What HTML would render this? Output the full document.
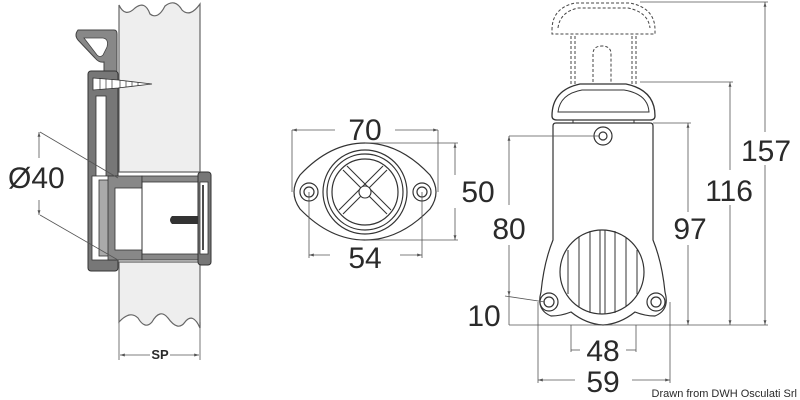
<!DOCTYPE html>
<html><head><meta charset="utf-8"><style>
html,body{margin:0;padding:0;background:#fff;}
svg{display:block;}
text{font-family:"Liberation Sans",sans-serif;fill:#2a2a2a;}
</style></head><body>
<svg width="800" height="400" viewBox="0 0 800 400" xmlns="http://www.w3.org/2000/svg">
<defs>
<marker id="a" viewBox="0 0 10 10" refX="10" refY="5" markerWidth="6" markerHeight="6" orient="auto-start-reverse"><path d="M0,2 L10,5 L0,8 Z" fill="#555"/></marker>
</defs>
<!-- LEFT: wall section -->
<g stroke="#666" stroke-width="1.2">
 <path d="M119,5 Q125,18 135,8 Q145,0 150,14 Q158,20 165,6 Q175,-2 182,10 Q190,18 200,4 L200,172 L119,172 Z" fill="#eeeeee"/>
 <path d="M119,262 L200,262 L200,328 Q193,312 185,322 Q178,332 168,318 Q160,308 152,322 Q145,330 138,318 Q130,310 119,322 Z" fill="#eeeeee"/>
</g>
<!-- lever -->
<path d="M78,30 L114,30 Q117,30 117,34 L117,72 L104,72 L104,62 Q99,63 95,58 L78,40 Q74,35 78,30 Z" fill="#888" stroke="#444" stroke-width="1"/>
<path d="M84,38 L103,38 Q109,39 107,47 L103,55 Q100,58 97,55 Z" fill="#fff" stroke="#444" stroke-width="0.8"/>
<!-- flange plate -->
<rect x="88" y="71" width="30" height="200" fill="#777" stroke="#333" stroke-width="1" rx="3"/>
<rect x="96" y="96" width="10" height="80" fill="#fff" stroke="#333" stroke-width="0.8"/>
<rect x="92" y="176" width="24" height="84" fill="#fff" stroke="#333" stroke-width="0.8"/>
<rect x="99" y="180" width="10" height="76" fill="#aaa" stroke="#333" stroke-width="0.8"/>
<!-- tube -->
<rect x="108" y="176" width="34" height="84" fill="#888" stroke="#333" stroke-width="0.8"/>
<rect x="115" y="188" width="27" height="62" fill="#fff" stroke="#333" stroke-width="0.8"/>
<rect x="142" y="180" width="58" height="76" fill="#fff" stroke="#333" stroke-width="1"/>
<rect x="142" y="176" width="58" height="6" fill="#888" stroke="#333" stroke-width="0.8"/>
<rect x="142" y="254" width="58" height="6" fill="#888" stroke="#333" stroke-width="0.8"/>
<rect x="198" y="172" width="13" height="93" fill="#777" stroke="#333" stroke-width="1" rx="3"/>
<rect x="200" y="182" width="8" height="72" fill="#fff" stroke="#333" stroke-width="0.8"/>
<line x1="203" y1="185" x2="203" y2="250" stroke="#111" stroke-width="1.5"/>
<path d="M172,216 L198,216 L198,224 L172,224 Q168,220 172,216 Z" fill="#333"/>
<!-- screw -->
<path d="M93,78 L118,80 L152,84 L118,88 L93,90 Z" fill="#fff" stroke="#333" stroke-width="0.8"/>
<g stroke="#333" stroke-width="0.7"><line x1="100" y1="78" x2="100" y2="90"/><line x1="106" y1="79" x2="106" y2="89"/><line x1="112" y1="79" x2="112" y2="89"/><line x1="120" y1="80" x2="120" y2="88"/><line x1="126" y1="81" x2="126" y2="87"/><line x1="132" y1="82" x2="132" y2="86"/><line x1="138" y1="82" x2="138" y2="86"/></g>
<!-- Ø40 dims -->
<g stroke="#555" stroke-width="0.8" fill="none">
 <line x1="39" y1="158" x2="39" y2="132" marker-end="url(#a)"/><line x1="39" y1="200" x2="39" y2="215" marker-end="url(#a)"/>
 <line x1="40" y1="132" x2="118" y2="178"/><line x1="40" y1="215" x2="118" y2="260"/>
 <line x1="119" y1="322" x2="119" y2="360"/><line x1="200" y1="322" x2="200" y2="360"/>
 <line x1="150" y1="355" x2="120" y2="355" marker-end="url(#a)"/><line x1="170" y1="355" x2="199" y2="355" marker-end="url(#a)"/>
</g>
<text x="8" y="188" font-size="30">Ø40</text>
<text x="160" y="359" font-size="13" font-weight="bold" text-anchor="middle">SP</text>

<!-- MIDDLE -->
<g stroke="#333" stroke-width="1.2" fill="#fff">
 <path d="M300,175 Q330,143 365,143 Q400,143 430,175 Q442,192 430,209 Q400,240 365,240 Q330,240 300,209 Q288,192 300,175 Z"/>
 <circle cx="309" cy="192" r="9"/><circle cx="309" cy="192" r="5"/>
 <circle cx="422" cy="192" r="9"/><circle cx="422" cy="192" r="5"/>
 <circle cx="365" cy="192" r="42"/><circle cx="365" cy="192" r="38"/><circle cx="365" cy="192" r="33"/>
</g>
<g stroke="#333" stroke-width="1.1" fill="none">
 <line x1="343" y1="170" x2="387" y2="214"/><line x1="347" y1="166" x2="391" y2="210"/>
 <line x1="387" y1="170" x2="343" y2="214"/><line x1="383" y1="166" x2="339" y2="210"/>
 <circle cx="365" cy="192" r="6" fill="#fff"/>
</g>
<g stroke="#555" stroke-width="0.8" fill="none">
 <line x1="292" y1="130" x2="292" y2="192"/><line x1="438" y1="130" x2="438" y2="192"/>
 <line x1="335" y1="130" x2="292" y2="130" marker-end="url(#a)"/><line x1="395" y1="130" x2="438" y2="130" marker-end="url(#a)"/>
 <line x1="365" y1="143" x2="458" y2="143"/><line x1="365" y1="240" x2="458" y2="240"/>
 <line x1="455" y1="175" x2="455" y2="143" marker-end="url(#a)"/><line x1="455" y1="208" x2="455" y2="240" marker-end="url(#a)"/>
 <line x1="309" y1="192" x2="309" y2="258"/><line x1="422" y1="192" x2="422" y2="258"/>
 <line x1="330" y1="255" x2="309" y2="255" marker-end="url(#a)"/><line x1="400" y1="255" x2="422" y2="255" marker-end="url(#a)"/>
</g>
<text x="365" y="140" font-size="30" text-anchor="middle">70</text>
<text x="478" y="202" font-size="30" text-anchor="middle">50</text>
<text x="365" y="268" font-size="30" text-anchor="middle">54</text>

<!-- RIGHT: pump -->
<g stroke="#333" stroke-width="1.2" fill="#fff">
 <path d="M553,126 Q553,123 556,123 L650,123 Q653,123 653,126 L653,240 Q662,262 665,292 Q670,310 655,316 Q645,316 635,312 Q620,324 603,325 Q586,324 571,312 Q561,316 551,316 Q536,310 541,292 Q544,262 553,240 Z"/>
 <circle cx="603" cy="136" r="9"/><circle cx="603" cy="136" r="4"/>
 <circle cx="549" cy="302" r="9"/><circle cx="549" cy="302" r="5"/>
 <circle cx="656" cy="302" r="9"/><circle cx="656" cy="302" r="5"/>
 <circle cx="602" cy="272" r="42"/>
</g>
<g stroke="#333" stroke-width="1">
 <line x1="579" y1="237" x2="579" y2="307"/><line x1="590" y1="231" x2="590" y2="313"/>
 <line x1="600" y1="230" x2="600" y2="314"/><line x1="605" y1="230" x2="605" y2="314"/>
 <line x1="615" y1="231" x2="615" y2="313"/><line x1="626" y1="237" x2="626" y2="307"/>
 <line x1="568" y1="250" x2="568" y2="294"/><line x1="637" y1="250" x2="637" y2="294"/>
</g>
<!-- lower handle -->
<path d="M552,116 Q552,90 580,84 L626,84 Q655,90 655,116 Q655,120 650,120 L557,120 Q552,120 552,116 Z" fill="#fff" stroke="#333" stroke-width="1.3"/>
<path d="M558,112 Q560,94 582,90 L624,90 Q648,94 649,112 Z" fill="#fff" stroke="#333" stroke-width="1"/>
<line x1="573" y1="120" x2="573" y2="123" stroke="#333"/><line x1="634" y1="120" x2="634" y2="123" stroke="#333"/>
<!-- dashed top -->
<g stroke="#444" stroke-width="1" fill="none" stroke-dasharray="3,2">
 <path d="M552,30 Q552,8 575,3 L630,3 Q655,8 655,30 L655,34 L552,34 Z"/>
 <path d="M558,28 Q560,12 578,8 L628,8 Q648,12 650,28"/>
 <line x1="571" y1="36" x2="571" y2="84"/><line x1="575" y1="36" x2="575" y2="84"/>
 <line x1="632" y1="36" x2="632" y2="84"/><line x1="636" y1="36" x2="636" y2="84"/>
 <path d="M593,82 L593,54 Q593,46 602,46 Q611,46 611,54 L611,82"/>
</g>
<!-- dims -->
<g stroke="#555" stroke-width="0.8" fill="none">
 <line x1="640" y1="2" x2="768" y2="2"/><line x1="765" y1="132" x2="765" y2="2" marker-end="url(#a)"/><line x1="765" y1="165" x2="765" y2="325" marker-end="url(#a)"/>
 <line x1="640" y1="82" x2="733" y2="82"/><line x1="730" y1="170" x2="730" y2="82" marker-end="url(#a)"/><line x1="730" y1="205" x2="730" y2="325" marker-end="url(#a)"/>
 <line x1="653" y1="123" x2="691" y2="123"/><line x1="688" y1="212" x2="688" y2="123" marker-end="url(#a)"/><line x1="688" y1="245" x2="688" y2="325" marker-end="url(#a)"/>
 <line x1="509" y1="136" x2="600" y2="136"/><line x1="509" y1="205" x2="509" y2="136" marker-end="url(#a)"/><line x1="509" y1="245" x2="509" y2="296" marker-end="url(#a)"/>
 <line x1="505" y1="296" x2="545" y2="302"/><line x1="509" y1="296" x2="509" y2="325"/>
 <line x1="509" y1="325" x2="768" y2="325"/>
 <line x1="571" y1="325" x2="571" y2="352"/><line x1="636" y1="325" x2="636" y2="352"/>
 <line x1="580" y1="350" x2="571" y2="350"/><line x1="626" y1="350" x2="636" y2="350"/>
 <line x1="538" y1="302" x2="538" y2="383"/><line x1="670" y1="302" x2="670" y2="383"/>
 <line x1="575" y1="380" x2="538" y2="380" marker-end="url(#a)"/><line x1="632" y1="380" x2="670" y2="380" marker-end="url(#a)"/>
</g>
<text x="766" y="161" font-size="30" text-anchor="middle">157</text>
<text x="729" y="201" font-size="30" text-anchor="middle">116</text>
<text x="690" y="239" font-size="30" text-anchor="middle">97</text>
<text x="509" y="239" font-size="30" text-anchor="middle">80</text>
<text x="484" y="326" font-size="30" text-anchor="middle">10</text>
<text x="603" y="361" font-size="30" text-anchor="middle">48</text>
<text x="603" y="392" font-size="30" text-anchor="middle">59</text>
<text x="797" y="397" font-size="11" text-anchor="end">Drawn from DWH Osculati Srl</text>
</svg>
</body></html>
